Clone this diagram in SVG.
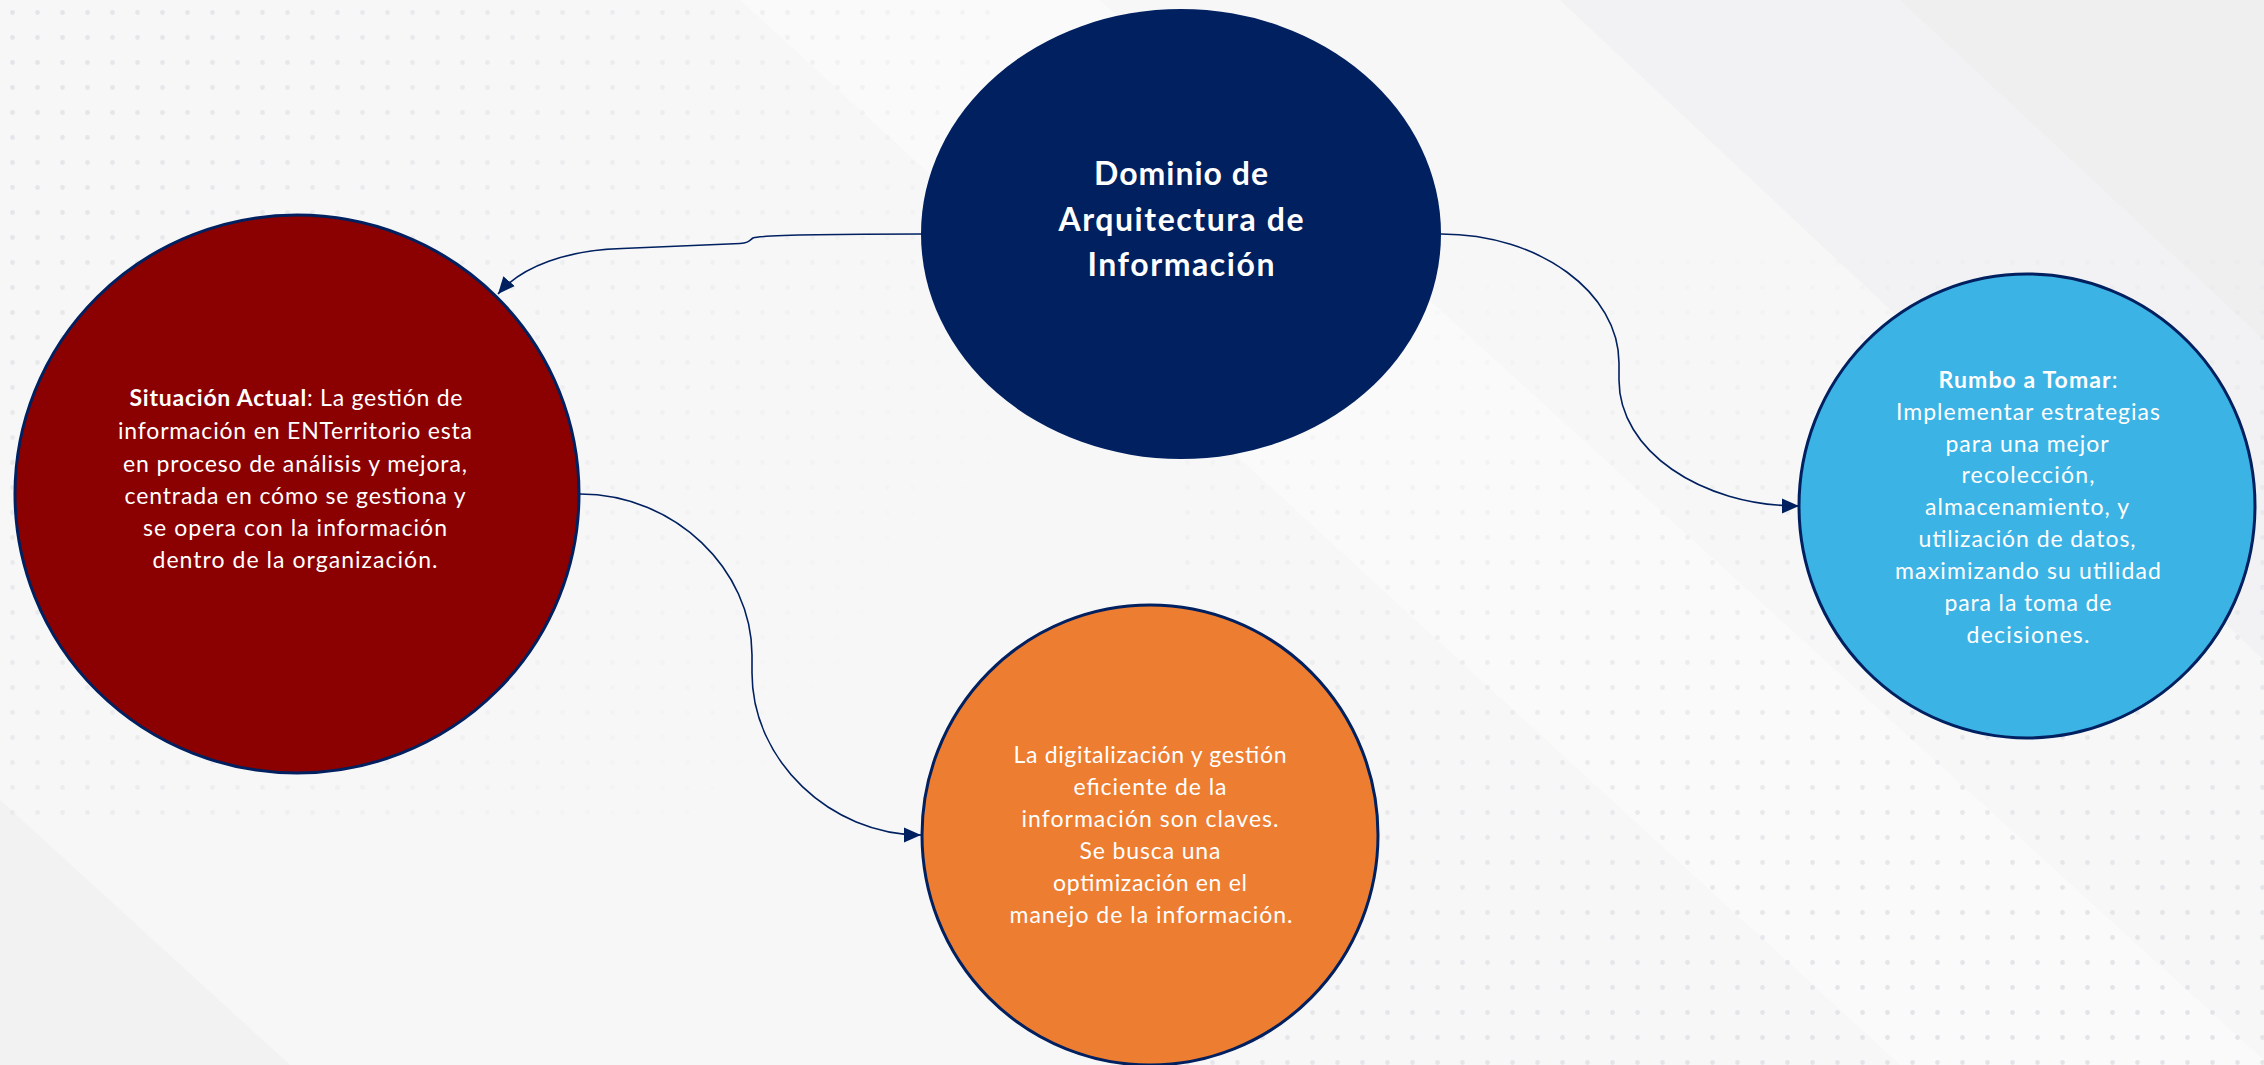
<svg xmlns="http://www.w3.org/2000/svg" width="2264" height="1065" viewBox="0 0 2264 1065">
  <style>
    .t { font-family: Lato, "Liberation Sans", "DejaVu Sans", sans-serif; fill: #FFFFFF; text-anchor: middle; font-size: 23px; }
    .title { font-weight: 700; font-size: 32px; }
    .b { font-weight: 700; }
    .edge { fill: none; stroke: #002060; stroke-width: 1.6; marker-end: url(#arrow); }
    .ring { stroke: #002060; stroke-width: 3; }
  </style>
  <defs>
    <marker id="arrow" markerUnits="userSpaceOnUse" markerWidth="18" markerHeight="16" refX="17" refY="8" orient="auto">
      <path d="M0,0.5 L17,8 L0,15.5 z" fill="#002060"/>
    </marker>
    <pattern id="dots" width="25" height="25" patternUnits="userSpaceOnUse">
      <circle cx="12.5" cy="12.5" r="2.4" fill="#E3E4E7"/>
    </pattern>
    <linearGradient id="fadeTL" x1="0" y1="0" x2="1" y2="0.6">
      <stop offset="0" stop-color="#fff" stop-opacity="1"/>
      <stop offset="0.55" stop-color="#fff" stop-opacity="0.5"/>
      <stop offset="1" stop-color="#fff" stop-opacity="0"/>
    </linearGradient>
    <linearGradient id="fadeBR" x1="0.2" y1="0" x2="0.5" y2="1">
      <stop offset="0" stop-color="#fff" stop-opacity="0"/>
      <stop offset="0.5" stop-color="#fff" stop-opacity="0.6"/>
      <stop offset="1" stop-color="#fff" stop-opacity="1"/>
    </linearGradient>
    <mask id="mTL">
      <rect x="0" y="0" width="1000" height="820" fill="url(#fadeTL)"/>
    </mask>
    <mask id="mBR">
      <rect x="1180" y="250" width="1084" height="815" fill="url(#fadeBR)"/>
    </mask>
  </defs>

  <!-- background -->
  <rect x="0" y="0" width="2264" height="1065" fill="#F7F7F8"/>
  <polygon points="1560,0 2264,0 2264,660" fill="#EEEEF0" opacity="0.5"/>
  <polygon points="1900,0 2264,0 2264,340" fill="#EAEAEC" opacity="0.4"/>
  <polygon points="740,0 1100,0 2264,1060 2264,1065 1900,1065" fill="#FFFFFF" opacity="0.35"/>
  <polygon points="0,800 290,1065 0,1065" fill="#EEEEF0" opacity="0.6"/>
  <rect x="0" y="0" width="1000" height="820" fill="url(#dots)" mask="url(#mTL)"/>
  <rect x="1180" y="250" width="1084" height="815" fill="url(#dots)" mask="url(#mBR)"/>

  <!-- connectors -->
  <g id="connectors">
    <path class="edge" d="M 921 234 C 850 234 762 235 753 238 C 749 241 748 243 740 243.5 L 622 248.5 C 568 250 522 266 498 294"/>
    <path class="edge" d="M 580 494 C 675 494 752 570 752 655 L 752 673 C 752 760 830 835 921 835"/>
    <path class="edge" d="M 1441 234 C 1540 234 1619 293 1619 363 L 1619 380 C 1619 450 1700 506 1799 506"/>
  </g>

  <!-- nodes -->
  <g id="node-dominio">
    <ellipse cx="1181" cy="234" rx="260" ry="225" fill="#002060"/>
    <text class="t title" x="1181" y="185" textLength="174">Dominio de</text>
    <text class="t title" x="1181" y="231" textLength="245">Arquitectura de</text>
    <text class="t title" x="1181" y="276" textLength="187">Información</text>
  </g>

  <g id="node-situacion">
    <ellipse class="ring" cx="297" cy="494" rx="282" ry="279" fill="#8B0000"/>
    <text class="t" x="296" y="406" textLength="333"><tspan class="b">Situación  Actual</tspan>:  La gestión de</text>
    <text class="t" x="295" y="439" textLength="354">información en ENTerritorio esta</text>
    <text class="t" x="295" y="472" textLength="344">en  proceso de análisis y mejora,</text>
    <text class="t" x="295" y="504" textLength="341">centrada en  cómo se gestiona y</text>
    <text class="t" x="295" y="536" textLength="304">se opera con la información</text>
    <text class="t" x="295" y="568" textLength="285">dentro  de la organización.</text>
  </g>

  <g id="node-digitalizacion">
    <ellipse class="ring" cx="1150" cy="835" rx="228" ry="230" fill="#ED7D31"/>
    <text class="t" x="1150" y="763" textLength="273">La digitalización y gestión</text>
    <text class="t" x="1150" y="795" textLength="153">eficiente de la</text>
    <text class="t" x="1150" y="827" textLength="257">información son claves.</text>
    <text class="t" x="1150" y="859" textLength="141">Se busca una</text>
    <text class="t" x="1150" y="891" textLength="194">optimización en el</text>
    <text class="t" x="1151" y="923" textLength="283">manejo de la información.</text>
  </g>

  <g id="node-rumbo">
    <ellipse class="ring" cx="2027" cy="506" rx="228" ry="232" fill="#3CB3E5"/>
    <text class="t" x="2028" y="388" textLength="179"><tspan class="b">Rumbo  a Tomar</tspan>:</text>
    <text class="t" x="2028" y="420" textLength="264">Implementar estrategias</text>
    <text class="t" x="2027" y="452" textLength="163">para una mejor</text>
    <text class="t" x="2028" y="483" textLength="133">recolección,</text>
    <text class="t" x="2027" y="515" textLength="204">almacenamiento, y</text>
    <text class="t" x="2027" y="547" textLength="217">utilización de datos,</text>
    <text class="t" x="2028" y="579" textLength="266">maximizando su utilidad</text>
    <text class="t" x="2028" y="611" textLength="167">para la toma de</text>
    <text class="t" x="2028" y="643" textLength="123">decisiones.</text>
  </g>
</svg>
